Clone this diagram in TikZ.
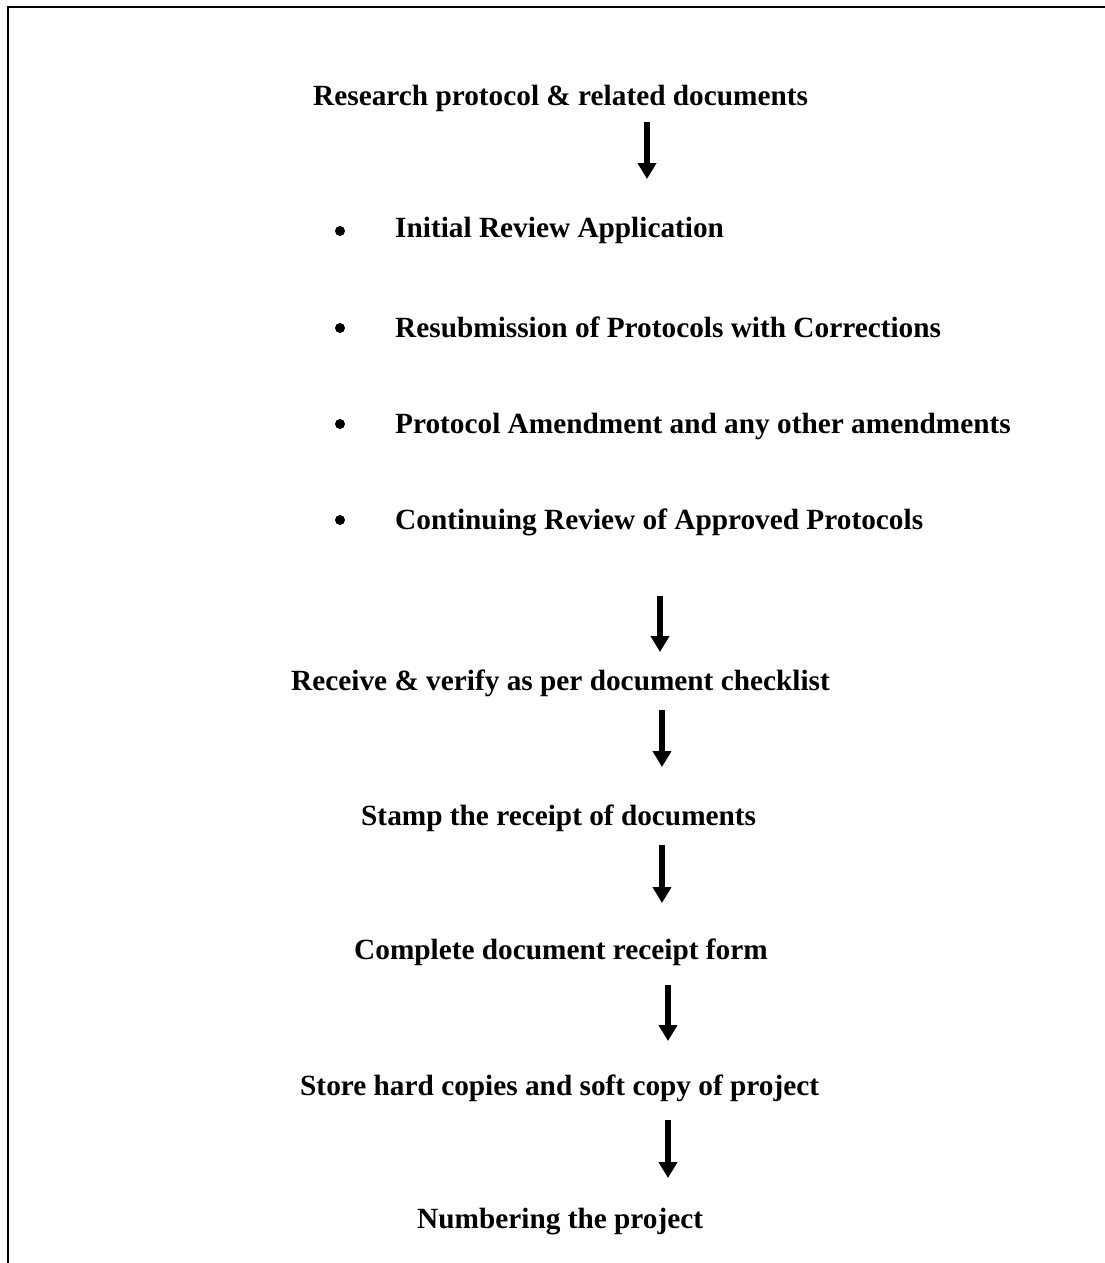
\documentclass[tikz,border=0pt]{standalone}
\usepackage{fontspec}
\setmainfont{Liberation Serif}
\usetikzlibrary{arrows.meta}
\begin{document}
\begin{tikzpicture}[x=1pt,y=-1pt,
  label/.style={anchor=base west,inner sep=0pt,font=\fontsize{29.3}{35}\selectfont\bfseries},
  flow/.style={line width=5.2pt,-{Triangle[width=18pt,length=16pt]}},
  dot/.style={circle,fill=black,inner sep=0pt,minimum size=10pt}]
\useasboundingbox (0,0) rectangle (1105,1263);
% open frame: left and top edges
\draw[line width=2.8pt] (8,1263) -- (8,7) -- (1105,7);

% headings and steps
\node[label] (src) at (313,105) {Research protocol \& related documents};
\node[label] (b1) at (395,237) {Initial Review Application};
\node[label] (b2) at (395,337) {Resubmission of Protocols with Corrections};
\node[label] (b3) at (395,433) {Protocol Amendment and any other amendments};
\node[label] (b4) at (395,529) {Continuing Review of Approved Protocols};
\node[label] (s1) at (291,690) {Receive \& verify as per document checklist};
\node[label] (s2) at (361,825) {Stamp the receipt of documents};
\node[label] (s3) at (354,959) {Complete document receipt form};
\node[label] (s4) at (300,1095) {Store hard copies and soft copy of project};
\node[label] (s5) at (417,1228) {Numbering the project};

% bullets
\node[dot] (d1) at (340,231) {};
\node[dot] (d2) at (340,328) {};
\node[dot] (d3) at (340,424) {};
\node[dot] (d4) at (340,520) {};

% arrow ends
\coordinate (a1s) at (647,122);  \coordinate (a1e) at (647,179);
\coordinate (a2s) at (660,596);  \coordinate (a2e) at (660,652);
\coordinate (a3s) at (662,710);  \coordinate (a3e) at (662,767);
\coordinate (a4s) at (662,845);  \coordinate (a4e) at (662,903);
\coordinate (a5s) at (668,985);  \coordinate (a5e) at (668,1041);
\coordinate (a6s) at (668,1120); \coordinate (a6e) at (668,1178);

\draw[flow] (a1s) -- (a1e);
\draw[flow] (a2s) -- (a2e);
\draw[flow] (a3s) -- (a3e);
\draw[flow] (a4s) -- (a4e);
\draw[flow] (a5s) -- (a5e);
\draw[flow] (a6s) -- (a6e);
\end{tikzpicture}
\end{document}
